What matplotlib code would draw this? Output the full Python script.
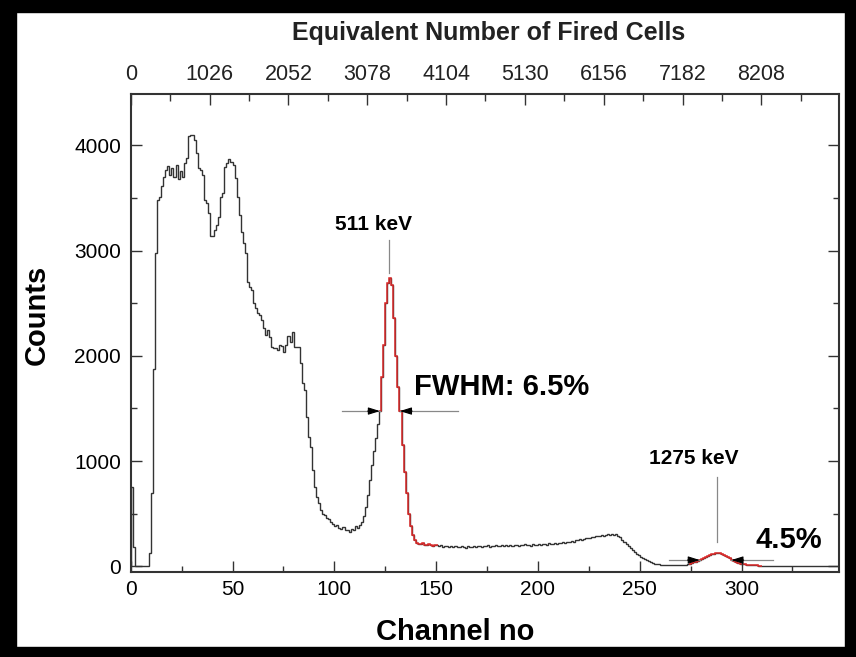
import numpy as np
import matplotlib
matplotlib.use("Agg")
import matplotlib.pyplot as plt
from matplotlib.ticker import MultipleLocator, FixedLocator
from matplotlib.patches import Rectangle

plt.rcParams["font.family"] = ["Liberation Sans", "DejaVu Sans"]
NARROW = ["Liberation Sans Narrow", "DejaVu Sans Condensed", "Liberation Sans"]

# counts per channel, channels 0..347
counts = [
    750, 185, 5, 5, 5, 5, 5, 5, 5, 125,
    696, 1872, 2974, 3481, 3512, 3614, 3697, 3766, 3800, 3720,
    3790, 3700, 3810, 3680, 3760, 3700, 3830, 3877, 4090, 4100,
    4095, 4051, 3925, 3782, 3766, 3719, 3481, 3450, 3355, 3139,
    3139, 3196, 3243, 3322, 3512, 3545, 3798, 3830, 3868, 3845,
    3814, 3693, 3512, 3339, 3180, 3069, 2974, 2704, 2657, 2625,
    2499, 2452, 2404, 2388, 2340, 2261, 2198, 2245, 2182, 2087,
    2071, 2071, 2055, 2103, 2090, 2040, 2103, 2188, 2134, 2229,
    2087, 2087, 2087, 1929, 1739, 1675, 1421, 1231, 1136, 914,
    756, 661, 598, 534, 500, 487, 460, 446, 420, 400,
    380, 390, 360, 350, 370, 340, 345, 330, 350, 340,
    380, 360, 390, 420, 480, 560, 680, 820, 960, 1100,
    1220, 1350, 1480, 1800, 2100, 2500, 2690, 2740, 2670, 2360,
    2000, 1700, 1480, 1150, 900, 700, 500, 380, 300, 250,
    225, 215, 210, 220, 205, 200, 210, 205, 195, 200,
    205, 190, 200, 185, 195, 190, 180, 195, 185, 190,
    180, 185, 190, 180, 175, 190, 185, 180, 190, 185,
    195, 190, 185, 195, 190, 200, 185, 195, 190, 200,
    195, 190, 200, 195, 205, 190, 200, 195, 205, 200,
    195, 205, 200, 210, 200, 205, 195, 210, 205, 200,
    210, 205, 215, 210, 205, 220, 210, 215, 220, 210,
    225, 220, 230, 225, 235, 230, 240, 235, 245, 250,
    255, 250, 260, 265, 270, 265, 275, 280, 285, 290,
    285, 295, 290, 300, 305, 295, 310, 300, 305, 290,
    280, 250, 230, 210, 190, 170, 150, 135, 120, 105,
    90, 78, 66, 55, 46, 38, 30, 25, 20, 17,
    15, 13, 12, 11, 10, 9, 9, 8, 8, 9,
    10, 12, 15, 18, 24, 30, 36, 44, 52, 60,
    70, 80, 90, 100, 108, 115, 120, 123, 124, 122,
    117, 110, 100, 88, 75, 62, 50, 40, 32, 25,
    20, 18, 15, 12, 10, 9, 8, 8, 7, 7,
    6, 6, 7, 6, 5, 6, 7, 6, 5, 6,
    6, 7, 6, 5, 6, 6, 5, 6, 7, 6,
    5, 6, 6, 5, 6, 7, 6, 5, 6, 6,
    5, 6, 7, 6, 5, 6, 5, 6,
]
edges = np.arange(len(counts) + 1)

# fitted regions drawn in red
fit_ranges = [(122, 151), (274, 310)]

peak_labels = ["511 keV", "1275 keV"]
peak_channels = [127, 287.7]
label_line_tops = [3100, 850]
label_line_bottoms = [2790, 235]
label_x = [119, 276.7]
label_y = [3250, 1020]

# FWHM markers
fwhm_level = [1475, 59]
fwhm_left = [122.4, 279.5]
fwhm_right = [132.2, 295.0]
fwhm_line_left = [103.9, 264.4]
fwhm_line_right = [160.8, 315.5]
fwhm_text = ["FWHM: 6.5%", "4.5%"]
fwhm_text_pos = [(139, 1700), (307, 245)]

cells_per_channel = 26.5
top_ticks = [0, 1026, 2052, 3078, 4104, 5130, 6156, 7182, 8208]

fig = plt.figure(figsize=(8.56, 6.57), dpi=100)
ax = fig.add_axes([0.1527, 0.1298, 0.8278, 0.7267])

line_col = "#333333"
ax.stairs(counts, edges, color=line_col, lw=1.0)
for lo, hi in fit_ranges:
    ax.stairs(counts[lo:hi], edges[lo:hi + 1], baseline=None,
              color="#dc2a2a", lw=1.1)

ax.set_xlim(0, 348)
ax.set_ylim(-52, 4486)

ax.xaxis.set_major_locator(MultipleLocator(50))
ax.xaxis.set_minor_locator(MultipleLocator(25))
ax.yaxis.set_major_locator(MultipleLocator(1000))
ax.yaxis.set_minor_locator(MultipleLocator(500))
ax.tick_params(which="both", direction="in", top=False, right=True,
               color=line_col, width=1.0)
ax.tick_params(which="major", length=8, labelsize=15, pad=6)
ax.tick_params(which="minor", length=4)
ax.tick_params(axis="y", pad=7)
for s in ax.spines.values():
    s.set_color(line_col)
    s.set_linewidth(1.5)

top = ax.secondary_xaxis("top", functions=(lambda c: c * cells_per_channel,
                                           lambda n: n / cells_per_channel))
top.xaxis.set_major_locator(FixedLocator(top_ticks))
top.xaxis.set_minor_locator(MultipleLocator(513))
top.tick_params(which="both", direction="in", color=line_col, width=1.0)
top.tick_params(which="major", length=8, pad=7)
top.tick_params(which="minor", length=5)
for lab in top.get_xticklabels():
    lab.set_fontfamily(NARROW)
    lab.set_fontsize(15.5)
    lab.set_color("#222222")
top.spines["top"].set_visible(False)

for i in range(2):
    ax.plot([peak_channels[i]] * 2, [label_line_bottoms[i], label_line_tops[i]],
            color="#888888", lw=0.9)
    ax.text(label_x[i], label_y[i], peak_labels[i], ha="center", va="center",
            fontsize=15, fontweight="bold")
    y = fwhm_level[i]
    ax.plot([fwhm_line_left[i], fwhm_left[i]], [y, y], color="#888888", lw=0.9)
    ax.plot([fwhm_right[i], fwhm_line_right[i]], [y, y], color="#888888", lw=0.9)
    aw = "-|>,head_length=0.7,head_width=0.22"
    ax.annotate("", xy=(fwhm_left[i], y), xytext=(fwhm_left[i] - 6, y),
                arrowprops=dict(arrowstyle=aw, color="black", lw=0.8,
                                shrinkA=0, shrinkB=0))
    ax.annotate("", xy=(fwhm_right[i], y), xytext=(fwhm_right[i] + 6, y),
                arrowprops=dict(arrowstyle=aw, color="black", lw=0.8,
                                shrinkA=0, shrinkB=0))
    ax.text(fwhm_text_pos[i][0], fwhm_text_pos[i][1], fwhm_text[i],
            ha="left", va="center", fontsize=21, fontweight="bold")

fig.text(0.0432, 0.5205, "Counts", rotation=90, ha="center", va="center",
         fontsize=21, fontweight="bold")
fig.text(0.5315, 0.038, "Channel no", ha="center", va="center",
         fontsize=21, fontweight="bold")
fig.text(0.571, 0.950, "Equivalent Number of Fired Cells", ha="center",
         va="center", fontsize=18, fontweight="bold", family=NARROW,
         color="#222222")

# black frame around the figure
W, H = 856, 657
for x0, y0, w, h in [(0, 0, 16, H), (845, 0, 11, H), (0, 0, W, 10), (0, H - 12, W, 12)]:
    fig.patches.append(Rectangle((x0 / W, y0 / H), w / W, h / H,
                                 transform=fig.transFigure, color="black",
                                 zorder=10))

fig.savefig("out.png", dpi=100)
